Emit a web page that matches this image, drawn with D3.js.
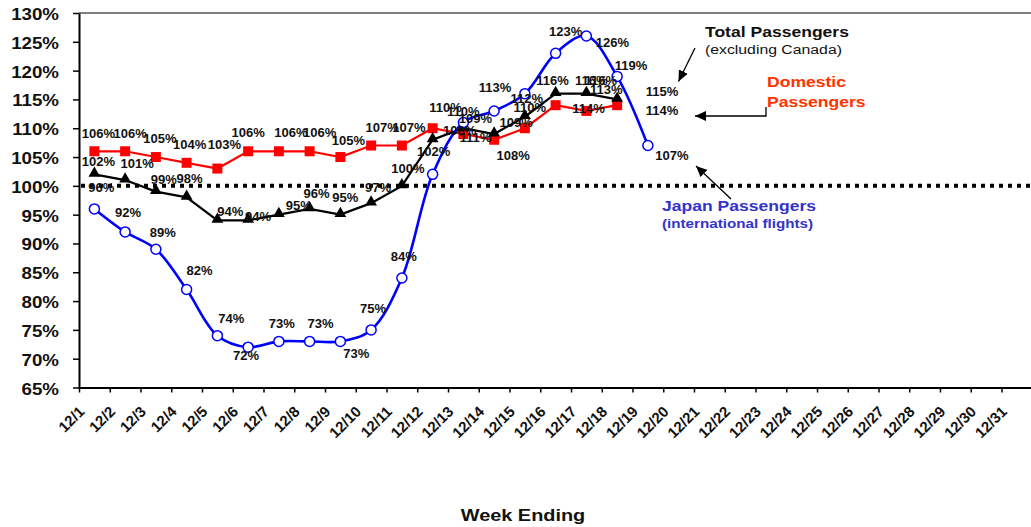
<!DOCTYPE html>
<html>
<head>
<meta charset="utf-8">
<script src="https://cdn.jsdelivr.net/npm/d3@7"></script>
<style>
body { margin: 0; background: #fff; }
svg { display: block; font-family: "Liberation Sans", Arial, sans-serif; }
</style>
</head>
<body>
<div id="chart"></div>
<script>
const weeks = d3.range(1, 32).map(d => "12/" + d);
const japan = [96, 92, 89, 82, 74, 72, 73, 73, 73, 75, 84, 102, 111, 113, 116, 123, 126, 119, 107];
const domestic = [106, 106, 105, 104, 103, 106, 106, 106, 105, 107, 107, 110, 109, 108, 110, 114, 113, 114];
const total = [102, 101, 99, 98, 94, 94, 95, 96, 95, 97, 100, 108, 110, 109, 112, 116, 116, 115];
const yTicks = d3.range(65, 131, 5);

// label nudges from each point (px), as placed by hand in the original
const japanLab = [[7,-17],[3,-15],[7,-12],[13,-15],[14,-13],[-2,13],[3,-13],[11,-13],[16,17],[2,-17],[2,-17],[1,-18],[12,20],[1,-19],[76,-9],[10,-17],[26,11],[14,-6],[24,14]];
const domLab = [[4,-13],[5,-13],[4,-14],[3,-14],[7,-20],[0,-14],[12,-14],[10,-14],[8,-12],[11,-14],[7,-14],[13,-16],[12,-11],[19,20],[5,-16],[33,8],[20,-17],[45,10]];
const totLab = [[4,-8],[12,-12],[8,-8],[3,-14],[13,-4],[10,1],[20,-5],[7,-11],[5,-13],[7,-11],[6,-13],[27,-5],[0,-12],[22,-7],[2,-14],[-3,-9],[5,-9],[45,-3]];

const W = 1031, H = 527;
const plotLeft = 79, plotTop = 13, plotBottom = 387.5;
const band = 30.75;

const svg = d3.select("#chart").append("svg")
    .attr("width", W)
    .attr("height", H);

const x = d3.scaleBand().domain(weeks).range([plotLeft, plotLeft + weeks.length * band]);
const xi = d3.scaleLinear().domain([0, weeks.length]).range(x.range());
const y = d3.scaleLinear().domain([65, 130]).range([plotBottom, plotTop]);
const cx = i => x(weeks[i]) + x.bandwidth() / 2;

// top frame line
svg.append("line")
    .attr("x1", plotLeft).attr("x2", W)
    .attr("y1", plotTop).attr("y2", plotTop)
    .attr("stroke", "#808080").attr("stroke-width", 2);

// 100% reference
svg.append("line")
    .attr("x1", plotLeft + 2).attr("x2", W)
    .attr("y1", y(100)).attr("y2", y(100))
    .attr("stroke", "#000").attr("stroke-width", 4)
    .attr("stroke-dasharray", "4,5");

// y axis
const yAxis = svg.append("g")
    .attr("transform", `translate(${plotLeft},0)`)
    .call(d3.axisLeft(y).tickValues(yTicks).tickSize(6).tickSizeOuter(0).tickFormat(d => d + "%"));
yAxis.select(".domain").attr("stroke-width", 2);
yAxis.selectAll(".tick line").attr("stroke-width", 1.5);
yAxis.selectAll("text")
    .attr("x", 0).attr("dy", null)
    .attr("transform", "translate(-20,6.5) scale(1.17,1)")
    .attr("text-anchor", "end")
    .attr("fill", "#111")
    .style("font-size", "16px")
    .style("font-weight", "bold")
    .style("font-family", "Liberation Sans, Arial, sans-serif");

// x axis (ticks between weeks)
const xAxis = svg.append("g")
    .attr("transform", `translate(0,${plotBottom})`)
    .call(d3.axisBottom(xi).tickValues(d3.range(0, weeks.length + 1)).tickSize(5).tickSizeOuter(0).tickFormat(""));
xAxis.select(".domain").attr("stroke-width", 2);
xAxis.selectAll(".tick line").attr("stroke-width", 1.5);

svg.append("g")
    .selectAll("text")
    .data(weeks)
    .join("text")
    .attr("transform", (d, i) => `translate(${cx(i) - 9},${plotBottom + 25}) rotate(-45)`)
    .attr("text-anchor", "end")
    .attr("fill", "#111")
    .style("font-size", "15px")
    .style("font-weight", "bold")
    .text(d => d);

// series
const straight = d3.line().x((d, i) => cx(i)).y(d => y(d));
const smooth = d3.line().x((d, i) => cx(i)).y(d => y(d)).curve(d3.curveCatmullRom.alpha(0.5));

svg.append("path").datum(domestic)
    .attr("d", straight).attr("fill", "none")
    .attr("stroke", "#ff0000").attr("stroke-width", 2.2);
svg.append("g").selectAll("rect").data(domestic).join("rect")
    .attr("x", (d, i) => cx(i) - 5).attr("y", d => y(d) - 5)
    .attr("width", 10).attr("height", 10)
    .attr("fill", "#ff0000");

svg.append("path").datum(total)
    .attr("d", straight).attr("fill", "none")
    .attr("stroke", "#000").attr("stroke-width", 2.2);
svg.append("g").selectAll("path").data(total).join("path")
    .attr("d", d3.symbol(d3.symbolTriangle).size(60))
    .attr("transform", (d, i) => `translate(${cx(i)},${y(d) - 1})`)
    .attr("fill", "#000");

svg.append("path").datum(japan)
    .attr("d", smooth).attr("fill", "none")
    .attr("stroke", "#0000ff").attr("stroke-width", 2.6);
svg.append("g").selectAll("circle").data(japan).join("circle")
    .attr("cx", (d, i) => cx(i)).attr("cy", d => y(d))
    .attr("r", 5)
    .attr("fill", "#fff").attr("stroke", "#0000ff").attr("stroke-width", 1.5);

// data labels
function labels(values, nudges) {
    svg.append("g").selectAll("text").data(values).join("text")
        .attr("x", (d, i) => cx(i) + nudges[i][0])
        .attr("y", (d, i) => y(d) + nudges[i][1])
        .attr("text-anchor", "middle")
        .attr("fill", "#111")
        .style("font-size", "13px")
        .style("font-weight", "bold")
        .text(d => d + "%");
}
labels(domestic, domLab);
labels(total, totLab);
labels(japan, japanLab);

// annotations
function wideText(tx, ty, str, size, weight, color, anchor) {
    svg.append("text")
        .attr("transform", `translate(${tx},${ty}) scale(1.17,1)`)
        .attr("text-anchor", anchor || "start")
        .attr("fill", color)
        .style("font-size", size + "px")
        .style("font-weight", weight)
        .text(str);
}
wideText(705, 37, "Total Passengers", 15, "bold", "#111");
wideText(705, 54, "(excluding Canada)", 13.5, "normal", "#111");
wideText(767, 87, "Domestic", 15, "bold", "#ff3300");
wideText(767, 107, "Passengers", 15, "bold", "#ff3300");
wideText(662, 211, "Japan Passengers", 15, "bold", "#3333cc");
wideText(662, 228, "(international flights)", 13, "bold", "#3333cc");
wideText(523, 521, "Week Ending", 17, "bold", "#111", "middle");

svg.append("defs").append("marker")
    .attr("id", "head")
    .attr("markerUnits", "userSpaceOnUse")
    .attr("markerWidth", 12).attr("markerHeight", 10)
    .attr("refX", 11).attr("refY", 5)
    .attr("orient", "auto")
    .append("path")
    .attr("d", "M0,0L11,5L0,10Z")
    .attr("fill", "#000");

const arrows = [
    [[695, 48], [678.5, 81.5]],
    [[766, 107], [766, 116], [695, 116]],
    [[731, 199], [696, 166]]
];
svg.append("g").selectAll("path").data(arrows).join("path")
    .attr("d", d3.line())
    .attr("fill", "none")
    .attr("stroke", "#000")
    .attr("stroke-width", 1.3)
    .attr("marker-end", "url(#head)");
</script>
</body>
</html>
